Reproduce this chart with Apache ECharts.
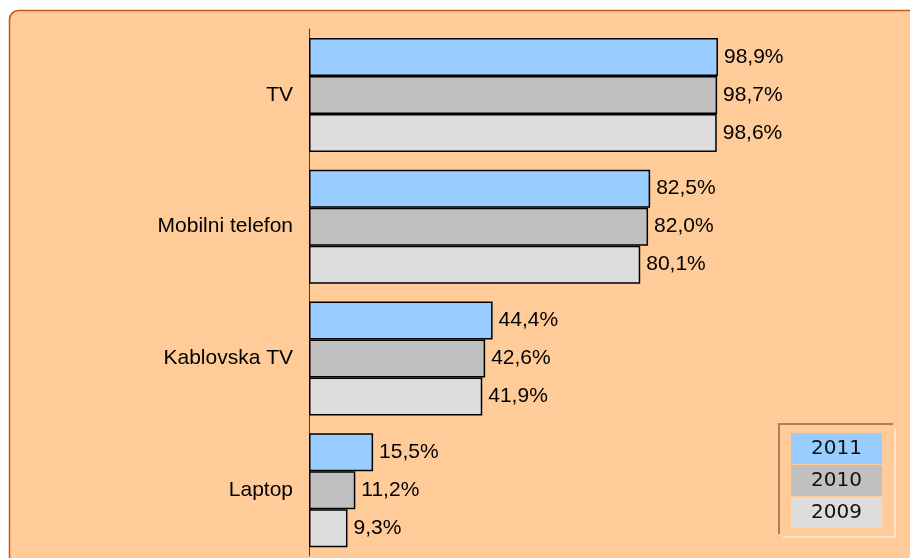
<!DOCTYPE html>
<html>
<head>
<meta charset="utf-8">
<script src="https://cdn.jsdelivr.net/npm/echarts@6/dist/echarts.min.js"></script>
<style>
  html, body { margin: 0; padding: 0; background: #fff; }
  #chart { width: 910px; height: 558px; }
</style>
</head>
<body>
<div id="chart"></div>
<script>
// categories top to bottom
var categories = ['TV', 'Mobilni telefon', 'Kablovska TV', 'Laptop'];
var years = ['2011', '2010', '2009'];
var values2011 = [98.9, 82.5, 44.4, 15.5];
var values2010 = [98.7, 82.0, 42.6, 11.2];
var values2009 = [98.6, 80.1, 41.9, 9.3];
var colors = ['#99CCFF', '#C0C0C0', '#DDDDDD'];

var chart = echarts.init(document.getElementById('chart'));

function fmt(p) {
  return p.value.toFixed(1).replace('.', ',') + '%';
}

function makeSeries(name, data, color) {
  return {
    name: name,
    type: 'bar',
    data: data,
    barWidth: 38,
    barGap: '0%',
    itemStyle: { color: color, borderColor: '#000', borderWidth: 1.5 },
    label: {
      show: true,
      position: 'right',
      distance: 6,
      formatter: fmt,
      color: '#000',
      fontFamily: 'Liberation Sans',
      fontSize: 21
    }
  };
}

var rich = {};
years.forEach(function (y, i) {
  rich['s' + y] = {
    backgroundColor: colors[i],
    width: 91,
    height: 31,
    lineHeight: 31,
    align: 'center',
    fontFamily: 'DejaVu Sans',
    fontSize: 20,
    color: '#111'
  };
});

var option = {
  animation: false,
  backgroundColor: '#fff',
  graphic: [
    {
      type: 'rect',
      z: -10,
      shape: { x: 9.5, y: 10.5, width: 1000, height: 700, r: 9 },
      style: { fill: '#FFCC99', stroke: '#C4561A', lineWidth: 1.5 }
    },
    // legend frame
    {
      type: 'polyline',
      shape: { points: [[779, 534], [779, 424], [893, 424]] },
      style: { stroke: '#A8805A', lineWidth: 2, fill: null }
    },
    {
      type: 'polyline',
      shape: { points: [[783, 537], [895, 537], [895, 428]] },
      style: { stroke: '#FFE3C6', lineWidth: 2, fill: null }
    }
  ],
  grid: { left: 309, top: 29, width: 413.5, height: 527, containLabel: false },
  legend: {
    orient: 'vertical',
    left: 780,
    top: 428,
    itemWidth: 0,
    itemHeight: 0,
    itemGap: 1,
    selectedMode: false,
    data: years,
    formatter: function (name) { return '{s' + name + '|' + name + '}'; },
    textStyle: { rich: rich }
  },
  xAxis: {
    type: 'value',
    min: 0,
    max: 100,
    show: false
  },
  yAxis: {
    type: 'category',
    inverse: true,
    data: categories,
    axisLine: { show: true, lineStyle: { color: '#4d3b2a', width: 1 } },
    axisTick: { show: false },
    axisLabel: {
      margin: 16,
      color: '#000',
      fontFamily: 'Liberation Sans',
      fontSize: 21
    }
  },
  series: [
    makeSeries(years[0], values2011, colors[0]),
    makeSeries(years[1], values2010, colors[1]),
    makeSeries(years[2], values2009, colors[2])
  ]
};

chart.setOption(option);
</script>
</body>
</html>
